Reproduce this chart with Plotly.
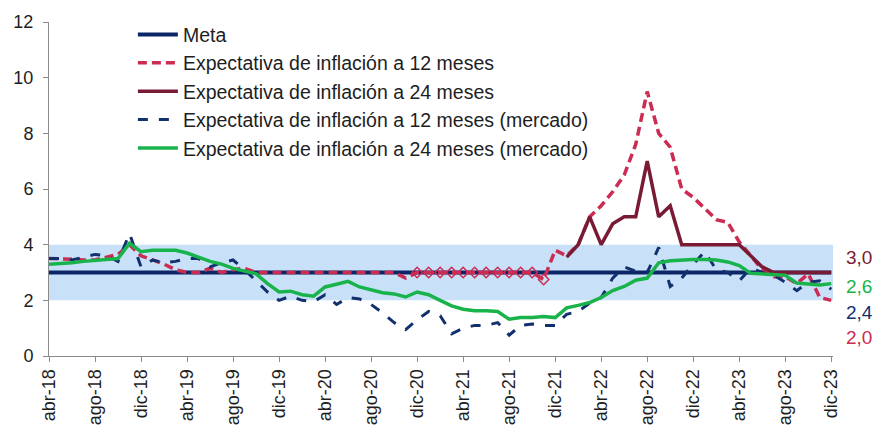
import plotly.graph_objects as go

# Periodos mensuales: abr-18 a dic-23
MESES = ["ene", "feb", "mar", "abr", "may", "jun", "jul", "ago", "sep", "oct", "nov", "dic"]
periodos = [f"{MESES[(3 + k) % 12]}-{18 + (3 + k) // 12}" for k in range(69)]
etiquetas_eje = periodos[::4]

meta = [3.0] * 69

# Expectativa de inflación a 12 meses
exp_12m = [3.5, 3.5, 3.48, 3.45, 3.45, 3.55, 3.65, 4.0, 3.6, 3.45, 3.3, 3.1, 3.0,
           3.0, 3.15, 3.0, 3.1, 3.15, 3.0, 3.0, 3.0, 3.0, 3.0, 3.0, 3.0, 3.0,
           3.0, 3.0, 3.0, 3.0, 3.0, 2.8, 3.0, 3.0, 3.0, 3.0, 3.0, 3.0, 3.0,
           3.0, 3.0, 3.0, 3.0, 2.75, 3.8, 3.6, 4.0, 5.0, 5.4, 5.9, 6.5, 7.6,
           9.5, 8.0, 7.5, 6.0, 5.7, 5.3, 4.9, 4.8, 4.1, 3.6, 3.1, 2.85, 2.85,
           2.6, 2.95, 2.1, 2.0]

# Tramo del 12 meses señalado con rombos (dic-20 a nov-21)
rombos_12m = list(range(32, 44))

# Expectativa de inflación a 24 meses (desde ene-22)
exp_24m = [None] * 45 + [3.55, 4.0, 5.0, 4.0, 4.75, 5.0, 5.0, 7.0, 5.0, 5.4,
                         4.0, 4.0, 4.0, 4.0, 4.0, 4.0, 3.6, 3.2, 3.0, 3.0,
                         3.0, 3.0, 3.0, 3.0]

# Expectativa de inflación a 12 meses (mercado)
mer_12m = [3.5, 3.5, 3.45, 3.55, 3.65, 3.6, 3.4, 4.4, 3.2, 3.45, 3.35, 3.4, 3.5,
           3.5, 3.2, 3.35, 3.45, 3.1, 2.7, 2.3, 2.0, 2.15, 2.0, 1.95, 2.2, 1.85, 2.1,
           2.05, 1.85, 1.55, 1.2, 0.95, 1.3, 1.6, 1.45, 0.8, 1.0, 1.1, 1.1, 1.2,
           0.75, 1.1, 1.15, 1.1, 1.1, 1.5,
           1.6, 1.9, 2.1, 2.8, 3.2, 3.05, 3.0, 3.9, 2.5, 2.8, 3.3, 3.75, 3.1, 3.0,
           2.7, 3.15, 3.0, 2.9, 2.65, 2.35, 2.65, 2.7, 2.4]

# Expectativa de inflación a 24 meses (mercado)
mer_24m = [3.3, 3.32, 3.35, 3.4, 3.43, 3.47, 3.5, 4.05, 3.75, 3.8,
           3.8, 3.8, 3.7, 3.55, 3.4, 3.3, 3.15, 3.05, 2.95, 2.6,
           2.3, 2.33, 2.2, 2.15, 2.48, 2.58, 2.68, 2.48, 2.38, 2.27,
           2.23, 2.12, 2.3, 2.2, 2.0, 1.8, 1.68, 1.63, 1.63, 1.6,
           1.32, 1.38, 1.38, 1.42, 1.38, 1.73, 1.82, 1.92, 2.1, 2.35,
           2.5, 2.72, 2.8, 3.35, 3.42, 3.45, 3.47, 3.47, 3.45, 3.38,
           3.25, 2.97, 2.95, 2.93, 2.9, 2.62, 2.58, 2.55, 2.6]

# Rango meta
banda_inf, banda_sup = 2, 4

C_META = "#0B2567"
C_12 = "#CC2B52"
C_24 = "#7A1B35"
C_M12 = "#13306E"
C_M24 = "#19B34B"
FONT = "Liberation Sans, Arial, sans-serif"

fig = go.Figure()

fig.add_shape(type="rect", xref="x", yref="y", x0=0, x1=68.15,
              y0=banda_inf, y1=banda_sup, fillcolor="#C8E1F8",
              line_width=0, layer="below")

fig.add_trace(go.Scatter(x=periodos, y=meta, name="Meta", mode="lines",
                         line=dict(color=C_META, width=4)))
fig.add_trace(go.Scatter(x=periodos, y=exp_12m, name="Expectativa de inflación a 12 meses",
                         mode="lines", line=dict(color=C_12, width=3.5, dash="9px,5px")))
fig.add_trace(go.Scatter(x=[periodos[i] for i in rombos_12m],
                         y=[exp_12m[i] for i in rombos_12m],
                         mode="markers", showlegend=False, hoverinfo="skip",
                         marker=dict(symbol="diamond-open", size=8, color=C_12,
                                     line=dict(width=1.5, color=C_12))))
fig.add_trace(go.Scatter(x=periodos, y=exp_24m, name="Expectativa de inflación a 24 meses",
                         mode="lines", line=dict(color=C_24, width=3.5)))
fig.add_trace(go.Scatter(x=periodos, y=mer_12m,
                         name="Expectativa de inflación a 12 meses (mercado)",
                         mode="lines", line=dict(color=C_M12, width=3, dash="10px,11px")))
fig.add_trace(go.Scatter(x=periodos, y=mer_24m,
                         name="Expectativa de inflación a 24 meses (mercado)",
                         mode="lines", line=dict(color=C_M24, width=3.5)))

# Últimos valores al margen derecho
finales = [(exp_24m[-1], C_24, 3.54), (mer_24m[-1], C_M24, 2.48),
           (mer_12m[-1], C_M12, 1.55), (exp_12m[-1], C_12, 0.66)]
for valor, color, ypos in finales:
    fig.add_annotation(xref="paper", yref="y", x=1.014, y=ypos, xanchor="left",
                       yanchor="middle", showarrow=False,
                       text=f"{valor:.1f}".replace(".", ","),
                       font=dict(family=FONT, size=19, color=color))

fig.update_layout(
    width=877, height=437,
    margin=dict(l=49, r=44, t=18, b=80),
    paper_bgcolor="white", plot_bgcolor="white",
    font=dict(family=FONT, color="#1E1E1E"),
    showlegend=True,
    legend=dict(x=0.107, y=1.02, xanchor="left", yanchor="top",
                bgcolor="rgba(0,0,0,0)", font=dict(family=FONT, size=19.5, color="#1E1E1E"),
                tracegroupgap=0, itemwidth=40),
    xaxis=dict(type="category", range=[0, 68.15], tickmode="array",
               tickvals=etiquetas_eje, ticktext=etiquetas_eje, tickangle=-90,
               showline=True, linecolor="#8A8A8A", linewidth=1,
               ticks="outside", ticklen=5, tickcolor="#8A8A8A",
               showgrid=False, zeroline=False,
               tickfont=dict(family=FONT, size=18, color="#1E1E1E")),
    yaxis=dict(range=[0, 12], dtick=2, showline=True, linecolor="#8A8A8A", linewidth=1,
               ticks="outside", ticklen=5, tickcolor="#8A8A8A",
               showgrid=False, zeroline=False, ticklabelstandoff=6,
               tickfont=dict(family=FONT, size=18, color="#1E1E1E")),
)

fig.write_html("out.html")
